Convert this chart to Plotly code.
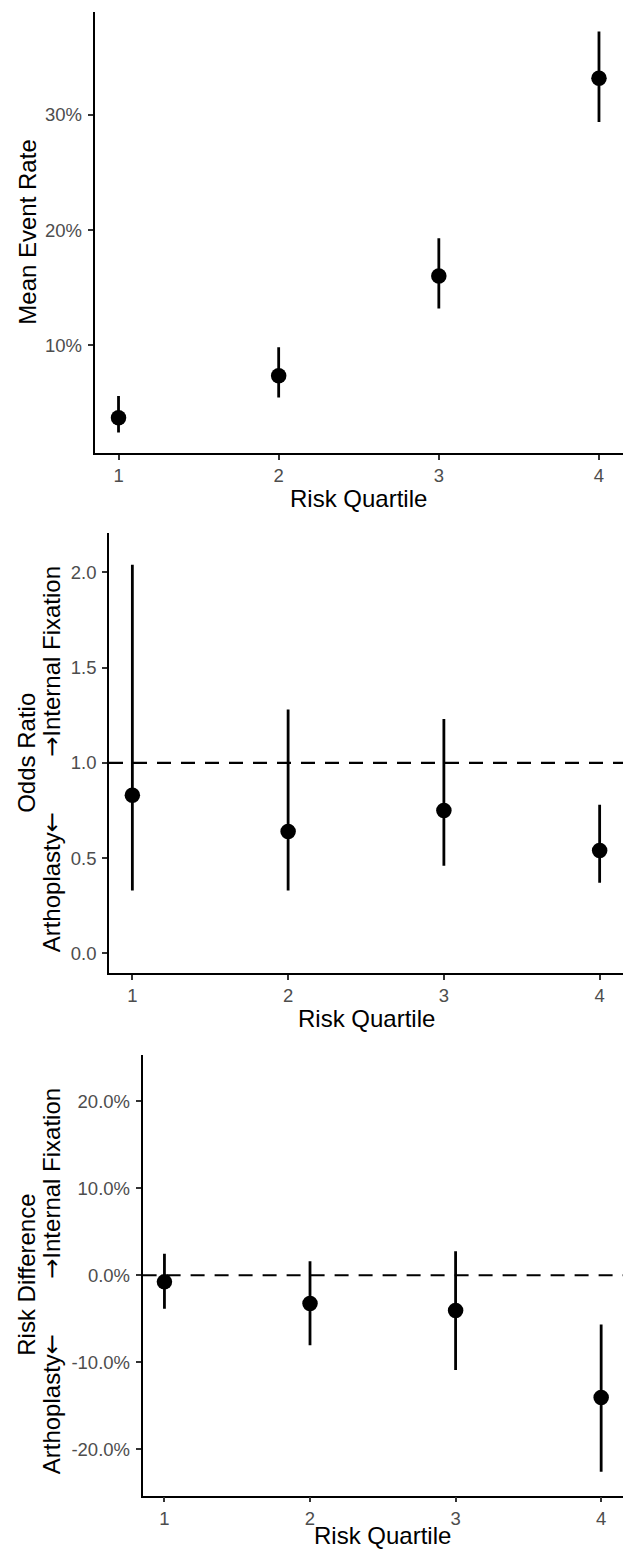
import plotly.graph_objects as go

# ---------------- data ----------------
quartiles = [1, 2, 3, 4]
quartile_labels = ["1", "2", "3", "4"]

event_rate = [0.0371, 0.0736, 0.1603, 0.3320]
event_lo = [0.0243, 0.0548, 0.1319, 0.2940]
event_hi = [0.0560, 0.0983, 0.1930, 0.3725]

or_est = [0.83, 0.64, 0.75, 0.54]
or_lo = [0.33, 0.33, 0.46, 0.37]
or_hi = [2.04, 1.28, 1.23, 0.78]

rd_est = [-0.0076, -0.0325, -0.0405, -0.1406]
rd_lo = [-0.0386, -0.0806, -0.1090, -0.2260]
rd_hi = [0.0248, 0.0160, 0.0275, -0.0566]

p1_ticks = [0.1, 0.2, 0.3]
p1_ticktext = ["10%", "20%", "30%"]
p2_ticks = [0.0, 0.5, 1.0, 1.5, 2.0]
p2_ticktext = ["0.0", "0.5", "1.0", "1.5", "2.0"]
p3_ticks = [-0.2, -0.1, 0.0, 0.1, 0.2]
p3_ticktext = ["-20.0%", "-10.0%", "0.0%", "10.0%", "20.0%"]

# ---------------- layout helpers ----------------
W, H = 623, 1550
FONT = "Liberation Sans, Arial, Helvetica, DejaVu Sans, sans-serif"
TICK_FONT = dict(family=FONT, size=18.5, color="#4D4D4D")
TITLE_FONT = dict(family=FONT, size=24, color="black")


def px_x(v):
    return v / W


def px_y(v):
    return 1 - v / H


panels = [
    # (x_left_px, y_top_px, y_bottom_px)
    (94.5, 11.7, 452.7),
    (109.0, 533.3, 973.3),
    (142.6, 1055.0, 1495.5),
]

fig = go.Figure()


def add_pointrange(idx, est, lo, hi):
    plus = [h - e for h, e in zip(hi, est)]
    minus = [e - l for e, l in zip(est, lo)]
    fig.add_trace(go.Scatter(
        x=quartiles, y=est, mode="markers",
        marker=dict(color="black", size=15.5),
        error_y=dict(type="data", array=plus, arrayminus=minus,
                     width=0, thickness=2.8, color="black"),
        xaxis="x" if idx == 0 else f"x{idx + 1}",
        yaxis="y" if idx == 0 else f"y{idx + 1}",
        showlegend=False, hoverinfo="skip",
    ))


add_pointrange(0, event_rate, event_lo, event_hi)
add_pointrange(1, or_est, or_lo, or_hi)
add_pointrange(2, rd_est, rd_lo, rd_hi)

y_ranges = [[0.0068, 0.3897], [-0.105, 2.205], [-0.2533, 0.2533]]
y_tickvals = [p1_ticks, p2_ticks, p3_ticks]
y_ticktexts = [p1_ticktext, p2_ticktext, p3_ticktext]

layout = dict(
    width=W, height=H,
    margin=dict(l=0, r=0, t=0, b=0),
    paper_bgcolor="white", plot_bgcolor="white",
    showlegend=False,
)

for i, (xl, yt, yb) in enumerate(panels):
    sx = "" if i == 0 else str(i + 1)
    layout[f"xaxis{sx}"] = dict(
        domain=[px_x(xl), 1.0],
        range=[0.85, 4.15],
        tickvals=quartiles, ticktext=quartile_labels,
        ticks="outside", ticklen=5, tickwidth=1.5, tickcolor="#333333",
        showline=True, linecolor="black", linewidth=1.7,
        showgrid=False, zeroline=False,
        tickfont=TICK_FONT,
        anchor="y" if i == 0 else f"y{i + 1}",
        fixedrange=True,
    )
    layout[f"yaxis{sx}"] = dict(
        domain=[px_y(yb), px_y(yt)],
        range=y_ranges[i],
        tickvals=y_tickvals[i], ticktext=y_ticktexts[i],
        ticks="outside", ticklen=5, tickwidth=1.5, tickcolor="#333333",
        ticklabelstandoff=2,
        showline=True, linecolor="black", linewidth=1.7,
        showgrid=False, zeroline=False,
        tickfont=TICK_FONT,
        anchor="x" if i == 0 else f"x{i + 1}",
        fixedrange=True,
    )

fig.update_layout(**layout)

# reference dashed lines
fig.add_shape(type="line", xref="x2 domain", yref="y2", x0=0, x1=1, y0=1, y1=1,
              line=dict(color="black", width=2.2, dash="14px,10px"), layer="below")
fig.add_shape(type="line", xref="x3 domain", yref="y3", x0=0, x1=1, y0=0, y1=0,
              line=dict(color="black", width=2.2, dash="14px,10px"), layer="below")

# x axis titles
x_title_y = [498, 1018, 1535]
for i, (xl, yt, yb) in enumerate(panels):
    fig.add_annotation(
        text="Risk Quartile", xref="paper", yref="paper",
        x=px_x((xl + W) / 2), y=px_y(x_title_y[i]),
        xanchor="center", yanchor="middle", showarrow=False,
        font=TITLE_FONT, borderpad=0,
    )

# y axis titles
c1 = (panels[0][1] + panels[0][2]) / 2
fig.add_annotation(
    text="Mean Event Rate", xref="paper", yref="paper",
    x=px_x(27.5), y=px_y(c1), xanchor="center", yanchor="middle",
    textangle=-90, showarrow=False, font=TITLE_FONT,
)

for i, name in [(1, "Odds Ratio"), (2, "Risk Difference")]:
    c = (panels[i][1] + panels[i][2]) / 2
    fig.add_annotation(
        text=name, xref="paper", yref="paper",
        x=px_x(26.5), y=px_y(c), xanchor="center", yanchor="middle",
        textangle=-90, showarrow=False, font=TITLE_FONT,
    )
    fig.add_annotation(
        text="<span style='font-family:DejaVu Sans'>\u2192</span>Internal Fixation",
        xref="paper", yref="paper",
        x=px_x(52), y=px_y(c + 6), xanchor="center", yanchor="bottom",
        textangle=-90, showarrow=False, font=TITLE_FONT,
    )
    fig.add_annotation(
        text="Arthoplasty<span style='font-family:DejaVu Sans'>\u2190</span>",
        xref="paper", yref="paper",
        x=px_x(52), y=px_y(c + 57), xanchor="center", yanchor="top",
        textangle=-90, showarrow=False, font=TITLE_FONT,
    )

fig.write_html("out.html", config={"displayModeBar": False},
               post_script="document.body.style.margin='0';")
